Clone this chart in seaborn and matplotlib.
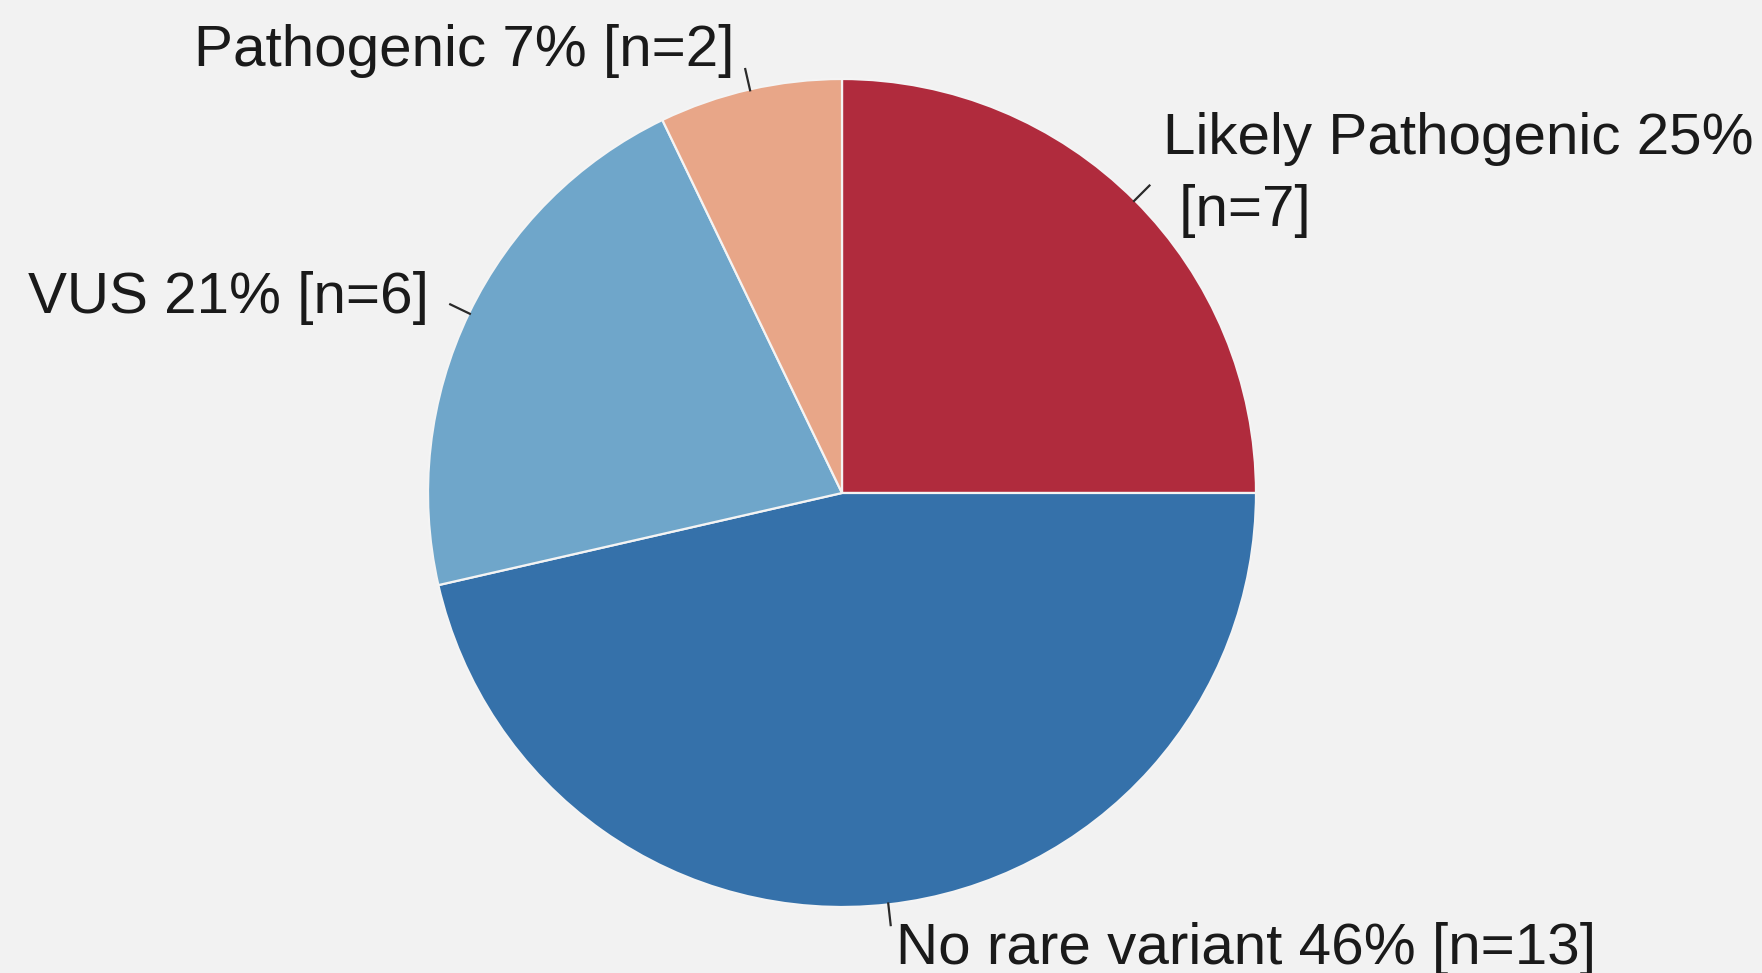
import numpy as np
import matplotlib
matplotlib.use("Agg")
import matplotlib.pyplot as plt
import seaborn as sns

# Variant classification counts
categories = ["Likely Pathogenic", "No rare variant", "VUS", "Pathogenic"]
counts = [7, 13, 6, 2]
slice_colors = ["#b02b3d", "#3571aa", "#6fa6ca", "#e8a688"]

sns.set_theme(style="white", rc={"figure.facecolor": "#f2f2f2",
                                 "axes.facecolor": "#f2f2f2"})
plt.rcParams["font.family"] = ["Liberation Sans", "DejaVu Sans"]

W, H = 1762, 973
fig = plt.figure(figsize=(W / 100, H / 100), dpi=100)
ax = fig.add_axes([0, 0, 1, 1])

center = (842, H - 493)
radius = 414
palette = sns.color_palette(slice_colors)

wedges, _ = ax.pie(counts, colors=palette, startangle=90, counterclock=False,
                   center=center, radius=radius,
                   wedgeprops=dict(edgecolor="#f4f4f4", linewidth=1.6))
ax.set_xlim(0, W)
ax.set_ylim(0, H)
ax.set_aspect("equal")
ax.axis("off")

total = sum(counts)
# label lines (each drawn on its own baseline), offset from leader end in px, alignment
label_style = {
    "Likely Pathogenic": dict(lines=["{name} {pct}%", " [n={n}]"], off=(13, 31), step=72, ha="left"),
    "No rare variant": dict(lines=["{name} {pct}% [n={n}]"], off=(5, -38), step=0, ha="left"),
    "VUS": dict(lines=["{name} {pct}% [n={n}]"], off=(-20, -9), step=0, ha="right"),
    "Pathogenic": dict(lines=["{name} {pct}% [n={n}]"], off=(-11, 2), step=0, ha="right"),
}

for w, name, n in zip(wedges, categories, counts):
    ang = np.deg2rad((w.theta1 + w.theta2) / 2)
    ux, uy = np.cos(ang), np.sin(ang)
    r0, r1 = radius * 0.995, radius * 1.053
    x0, y0 = center[0] + r0 * ux, center[1] + r0 * uy
    x1, y1 = center[0] + r1 * ux, center[1] + r1 * uy
    ax.plot([x0, x1], [y0, y1], color="#2a2a2a", lw=1.6, solid_capstyle="butt")
    st = label_style[name]
    pct = int(100 * n / total + 0.5) if name != "Pathogenic" else int(100 * n / total)
    for i, line in enumerate(st["lines"]):
        ax.text(x1 + st["off"][0], y1 + st["off"][1] - i * st["step"],
                line.format(name=name, pct=pct, n=n),
                ha=st["ha"], va="baseline", fontsize=42, color="#1a1a1a")

fig.savefig("out.png", dpi=100, facecolor=fig.get_facecolor())
